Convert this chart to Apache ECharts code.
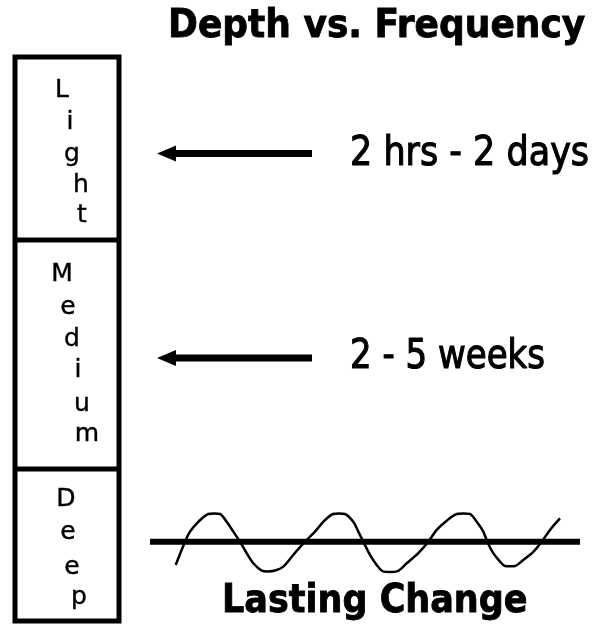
<!DOCTYPE html>
<html>
<head>
<meta charset="utf-8">
<script src="https://cdn.jsdelivr.net/npm/echarts@6/dist/echarts.min.js"></script>
<style>html,body{margin:0;padding:0;background:#fff}#c{width:595px;height:627px}</style>
</head>
<body>
<div id="c"></div>
<script>
// ---- data ----
const title = 'Depth vs. Frequency';
const depthLevels = ['Light', 'Medium', 'Deep'];
const depthSpan = [183, 229, 152];           // relative thickness of each layer
const frequencies = ['2 hrs - 2 days', '2 - 5 weeks', 'Lasting Change'];
// wave (time along the baseline 0..430, amplitude units)
const waveX = [25.7, 35, 40, 48.3, 58.3, 64, 70, 76.7, 83.3, 90, 96.7, 103.3, 111.7, 118, 125, 133.3, 143.3,
  155, 165, 173.3, 183, 189, 195, 203.3, 208.3, 213.3, 220, 226.7, 233, 240, 247, 256.7, 268.3,
  278.3, 286.7, 296.7, 306.7, 313, 320, 326.7, 333.3, 337.3, 343.3, 350, 355, 360, 365, 373.3, 383.3,
  391.7, 400, 410];
const waveY = [-0.83, 0, 0.36, 0.71, 0.99, 1.01, 0.99, 0.71, 0.36, 0, -0.41, -0.77, -1.03, -1.06, -1.03, -0.89, -0.47,
  0, 0.36, 0.71, 0.99, 1.01, 0.99, 0.71, 0.36, 0, -0.47, -0.83, -1.06, -1.08, -1.06, -0.77, -0.41,
  0, 0.42, 0.75, 0.99, 1.01, 0.99, 0.71, 0.36, 0, -0.41, -0.71, -0.87, -0.88, -0.87, -0.65, -0.36,
  0, 0.42, 0.83];
const baseX = [0, 430];
const baseY = [0, 0];

// ---- layout (letters of each depth word, stacked) ----
const FONT = 'DejaVu Sans';
const letterLayout = [
  // [char, centerX, baseline]
  ['L', 62, 98], ['i', 70, 130], ['g', 72, 162], ['h', 81, 193], ['t', 82, 223],
  ['M', 62, 282], ['e', 68, 315], ['d', 72, 347], ['i', 78, 378], ['u', 82, 412], ['m', 87, 442],
  ['D', 66, 507], ['e', 68, 540], ['e', 72, 575], ['p', 79, 605]
];

const chart = echarts.init(document.getElementById('c'), null, {renderer: 'canvas'});

const graphic = [];
graphic.push({type: 'text', z: 100, x: 168, y: 27, scaleY: 1.08,
  style: {text: title, font: 'bold 36px "' + FONT + '"', fill: '#000', stroke: '#000', lineWidth: 0.8, align: 'left', verticalAlign: 'middle'}});
letterLayout.forEach(function (l) {
  graphic.push({type: 'text', z: 100, x: l[1], y: l[2] - 8,
    style: {text: l[0], font: '25px "' + FONT + '"', fill: '#000', stroke: '#000', lineWidth: 0.4, align: 'center', verticalAlign: 'middle'}});
});
// arrows
[153.5, 358].forEach(function (y) {
  graphic.push({type: 'line', z: 100, shape: {x1: 170, y1: y, x2: 312, y2: y}, style: {stroke: '#000', lineWidth: 7}});
  graphic.push({type: 'polygon', z: 100, shape: {points: [[157, y], [176, y - 8], [176, y + 8]]}, style: {fill: '#000'}});
});
graphic.push({type: 'text', z: 100, x: 350, y: 155, scaleY: 1.15,
  style: {text: frequencies[0], font: '35px "' + FONT + '"', fill: '#000', stroke: '#000', lineWidth: 1, align: 'left', verticalAlign: 'middle'}});
graphic.push({type: 'text', z: 100, x: 350, y: 358, scaleY: 1.18,
  style: {text: frequencies[1], font: '34px "' + FONT + '"', fill: '#000', stroke: '#000', lineWidth: 1, align: 'left', verticalAlign: 'middle'}});
graphic.push({type: 'text', z: 100, x: 222, y: 602, scaleY: 1.1,
  style: {text: frequencies[2], font: 'bold 35px "' + FONT + '"', fill: '#000', stroke: '#000', lineWidth: 0.8, align: 'left', verticalAlign: 'middle'}});

const total = depthSpan.reduce(function (a, b) { return a + b; }, 0);

const option = {
  animation: false,
  backgroundColor: '#fff',
  grid: [
    {left: 15, top: 57, width: 104, height: total, show: true, borderColor: '#000', borderWidth: 5, backgroundColor: '#fff'},
    {left: 150, top: 499.7, width: 430, height: 84}
  ],
  xAxis: [
    {gridIndex: 0, type: 'category', data: ['depth'], show: false},
    {gridIndex: 1, type: 'value', min: 0, max: 430, show: false}
  ],
  yAxis: [
    {gridIndex: 0, type: 'value', min: 0, max: total, inverse: true, show: false},
    {gridIndex: 1, type: 'value', min: -1.5, max: 1.5, show: false}
  ],
  series: depthLevels.map(function (name, i) {
    return {
      name: name, type: 'bar', stack: 'depth', xAxisIndex: 0, yAxisIndex: 0,
      barWidth: '100%', data: [depthSpan[i]],
      itemStyle: {color: '#fff', borderColor: '#000', borderWidth: 2.5}
    };
  }).concat([
    {
      type: 'line', xAxisIndex: 1, yAxisIndex: 1, symbol: 'none', clip: false,
      data: baseX.map(function (x, i) { return [x, baseY[i]]; }),
      lineStyle: {color: '#000', width: 6}
    },
    {
      type: 'line', xAxisIndex: 1, yAxisIndex: 1, symbol: 'none', smooth: 0.3, clip: false,
      data: waveX.map(function (x, i) { return [x, waveY[i]]; }),
      lineStyle: {color: '#000', width: 2.5}
    }
  ]),
  graphic: graphic
};
chart.setOption(option);
</script>
</body>
</html>
